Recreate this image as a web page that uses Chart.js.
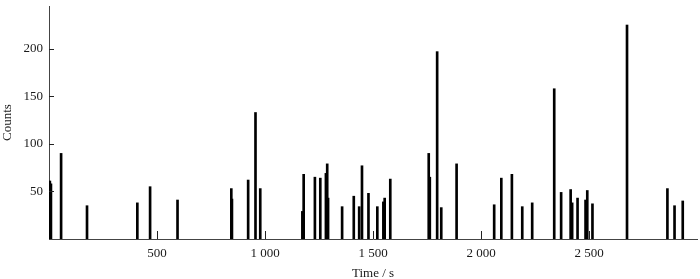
<!DOCTYPE html>
<html>
<head>
<meta charset="utf-8">
<script src="https://cdn.jsdelivr.net/npm/chart.js@4"></script>
<style>
html,body{margin:0;padding:0;background:#fff;}
#wrap{width:700px;height:279px;}
</style>
</head>
<body>
<div id="wrap"><canvas id="c" width="700" height="279"></canvas></div>
<script>
const times = [4, 9, 56, 176, 409, 468, 595, 844, 847, 922, 956, 978, 1173, 1179, 1231, 1256, 1282, 1288, 1292, 1357, 1411, 1436, 1449, 1479, 1520, 1548, 1554, 1580, 1758, 1763, 1797, 1816, 1887, 2061, 2094, 2143, 2191, 2237, 2339, 2371, 2415, 2422, 2447, 2484, 2492, 2516, 2676, 2863, 2896, 2934];
const counts = [61, 58, 90, 35, 38, 55, 41, 53, 42, 62, 133, 53, 29, 68, 65, 64, 69, 79, 43, 34, 45, 34, 77, 48, 34, 39, 43, 63, 90, 65, 197, 33, 79, 36, 64, 68, 34, 38, 158, 49, 52, 38, 43, 41, 51, 37, 225, 53, 35, 40];
const xTickValues = [500, 1000, 1500, 2000, 2500];
const xTickLabels = ['500', '1 000', '1 500', '2 000', '2 500'];
const yTickValues = [50, 100, 150, 200];
const yTickLabels = ['50', '100', '150', '200'];
const xTitle = 'Time / s';
const yTitle = 'Counts';

const FONT = {family: '"Liberation Serif", "Times New Roman", serif', size: 13};
const TXT = '#1a1a1a';

const innerTicks = {
  id: 'innerTicks',
  afterDraw(chart) {
    const {ctx, chartArea: a, scales: {x, y}} = chart;
    ctx.save();
    ctx.strokeStyle = '#222';
    ctx.lineWidth = 1;
    ctx.beginPath();
    xTickValues.forEach(v => {
      const px = Math.round(x.getPixelForValue(v)) + 0.5;
      ctx.moveTo(px, a.bottom);
      ctx.lineTo(px, a.bottom - 8);
    });
    yTickValues.forEach(v => {
      const py = Math.round(y.getPixelForValue(v)) + 0.5;
      ctx.moveTo(a.left, py);
      ctx.lineTo(a.left + 5, py);
    });
    ctx.stroke();
    ctx.restore();
  }
};

new Chart(document.getElementById('c'), {
  type: 'bar',
  data: {
    datasets: [{
      data: times.map((t, i) => ({x: t, y: counts[i]})),
      backgroundColor: '#000',
      borderWidth: 0,
      barThickness: 2
    }]
  },
  options: {
    responsive: false,
    animation: false,
    devicePixelRatio: 1,
    layout: {padding: {top: 6, right: 3, left: 0, bottom: 0}},
    plugins: {legend: {display: false}, tooltip: {enabled: false}},
    scales: {
      x: {
        type: 'linear',
        offset: false,
        min: 0, max: 3000,
        grid: {display: false, drawTicks: false},
        border: {display: true, color: '#444', width: 1},
        afterBuildTicks: s => { s.ticks = xTickValues.map(v => ({value: v})); },
        afterFit: s => { s.height = 40; s.paddingLeft = 0; s.paddingRight = 0; },
        ticks: {
          color: TXT, font: FONT, padding: 7, maxRotation: 0, autoSkip: false,
          callback: (v, i) => xTickLabels[i]
        },
        title: {display: true, text: xTitle, color: TXT, font: FONT, padding: {top: 0, bottom: -2}}
      },
      y: {
        min: 0, max: 245,
        grid: {display: false, drawTicks: false},
        border: {display: true, color: '#444', width: 1},
        afterBuildTicks: s => { s.ticks = yTickValues.map(v => ({value: v})); },
        afterFit: s => { s.width = 49; s.paddingTop = 0; s.paddingBottom = 0; },
        ticks: {
          color: TXT, font: FONT, padding: 6, autoSkip: false,
          callback: (v, i) => yTickLabels[i]
        },
        title: {display: true, text: yTitle, color: TXT, font: FONT, padding: {top: 0, bottom: 0}}
      }
    }
  },
  plugins: [innerTicks]
});
</script>
</body>
</html>
